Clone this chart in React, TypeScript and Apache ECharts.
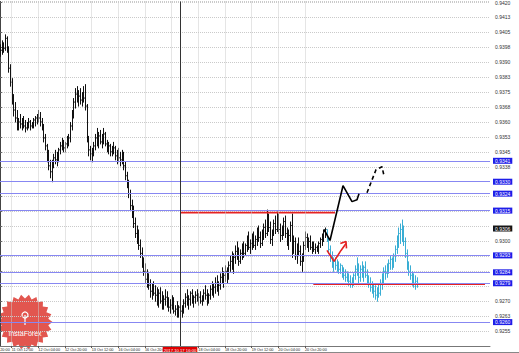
import React, { useEffect, useRef } from "react";
import * as echarts from "echarts";

// ---- axis scale ----
const yMin = 0.92475;
const yMax = 0.94205;
const yStep = 0.00075;
const barCount = 295;
const firstTick = 7;
const tickEvery = 16;
// the label under the crosshair box (17 Oct 12:00) is hidden by it in the reference
const xTickLabels = [
  "11 Oct 12:00", "12 Oct 04:00", "12 Oct 20:00", "13 Oct 12:00", "16 Oct 04:00", "16 Oct 20:00",
  "", "18 Oct 04:00", "18 Oct 20:00", "19 Oct 12:00", "20 Oct 04:00", "20 Oct 20:00",
];
const cutLabel = "10 Oct 20:00";
const crosshairIndex = 108;
const crosshairLabel = "2017.10.17 16:00";

// ---- price bars [high, low, close] ----
const historyBars: [number, number, number][] = [
  [0.9399,0.9393,0.9396],[0.9401,0.9394,0.9399],[0.9400,0.9395,0.9397],[0.9404,0.9396,0.9402],[0.9403,0.9395,0.9397],[0.9398,0.9385,0.9387],[0.9389,0.9378,0.9380],[0.9382,0.9369,0.9372],[0.9374,0.9363,0.9366],[0.9370,0.9360,0.9362],
  [0.9366,0.9356,0.9359],[0.9362,0.9356,0.9360],[0.9364,0.9357,0.9359],[0.9362,0.9356,0.9361],[0.9363,0.9357,0.9358],[0.9361,0.9355,0.9357],[0.9360,0.9356,0.9359],[0.9362,0.9357,0.9360],[0.9361,0.9356,0.9358],[0.9360,0.9357,0.9359],
  [0.9362,0.9357,0.9361],[0.9363,0.9358,0.9362],[0.9364,0.9359,0.9363],[0.9366,0.9360,0.9362],[0.9365,0.9358,0.9360],[0.9362,0.9356,0.9357],[0.9359,0.9350,0.9352],[0.9354,0.9346,0.9348],[0.9349,0.9340,0.9343],[0.9346,0.9336,0.9338],
  [0.9341,0.9332,0.9335],[0.9341,0.9330,0.9340],[0.9344,0.9337,0.9342],[0.9346,0.9339,0.9341],[0.9345,0.9338,0.9343],[0.9347,0.9340,0.9346],[0.9350,0.9344,0.9348],[0.9352,0.9346,0.9350],[0.9351,0.9345,0.9347],[0.9350,0.9345,0.9349],
  [0.9353,0.9347,0.9351],[0.9354,0.9348,0.9352],[0.9360,0.9350,0.9358],[0.9366,0.9356,0.9364],[0.9372,0.9362,0.9370],[0.9377,0.9367,0.9374],[0.9378,0.9370,0.9372],[0.9376,0.9368,0.9373],[0.9377,0.9369,0.9371],[0.9375,0.9368,0.9374],
  [0.9378,0.9370,0.9372],[0.9379,0.9366,0.9368],[0.9369,0.9350,0.9352],[0.9353,0.9343,0.9346],[0.9348,0.9341,0.9344],[0.9347,0.9340,0.9345],[0.9350,0.9343,0.9348],[0.9354,0.9346,0.9352],[0.9357,0.9348,0.9350],[0.9355,0.9347,0.9353],
  [0.9356,0.9349,0.9350],[0.9354,0.9347,0.9352],[0.9357,0.9349,0.9354],[0.9355,0.9348,0.9349],[0.9351,0.9345,0.9347],[0.9350,0.9344,0.9348],[0.9349,0.9343,0.9345],[0.9348,0.9343,0.9346],[0.9350,0.9344,0.9347],[0.9348,0.9341,0.9343],
  [0.9346,0.9339,0.9344],[0.9347,0.9340,0.9342],[0.9345,0.9338,0.9341],[0.9346,0.9339,0.9344],[0.9345,0.9336,0.9338],[0.9340,0.9331,0.9333],[0.9335,0.9327,0.9329],[0.9331,0.9322,0.9324],[0.9326,0.9316,0.9318],[0.9321,0.9312,0.9314],
  [0.9318,0.9307,0.9309],[0.9312,0.9302,0.9304],[0.9308,0.9299,0.9302],[0.9306,0.9296,0.9298],[0.9301,0.9292,0.9294],[0.9297,0.9287,0.9289],[0.9292,0.9283,0.9285],[0.9289,0.9279,0.9281],[0.9286,0.9277,0.9280],[0.9284,0.9276,0.9278],
  [0.9281,0.9272,0.9275],[0.9279,0.9271,0.9276],[0.9280,0.9273,0.9274],[0.9278,0.9270,0.9273],[0.9277,0.9268,0.9271],[0.9276,0.9267,0.9274],[0.9277,0.9269,0.9270],[0.9275,0.9266,0.9268],[0.9273,0.9266,0.9271],[0.9276,0.9268,0.9272],
  [0.9275,0.9267,0.9269],[0.9272,0.9265,0.9267],[0.9271,0.9264,0.9268],[0.9273,0.9266,0.9270],[0.9272,0.9264,0.9265],[0.9268,0.9263,0.9266],[0.9270,0.9262,0.9264],[0.9268,0.9262,0.9267],[0.9270,0.9263,0.9265],[0.9268,0.9262,0.9266],
  [0.9271,0.9264,0.9269],[0.9274,0.9267,0.9272],[0.9276,0.9268,0.9270],[0.9273,0.9266,0.9271],[0.9275,0.9268,0.9274],[0.9276,0.9269,0.9270],[0.9273,0.9267,0.9272],[0.9275,0.9269,0.9273],[0.9276,0.9270,0.9271],[0.9274,0.9268,0.9272],
  [0.9275,0.9269,0.9270],[0.9273,0.9268,0.9272],[0.9276,0.9270,0.9274],[0.9278,0.9271,0.9273],[0.9276,0.9268,0.9270],[0.9274,0.9269,0.9273],[0.9278,0.9271,0.9276],[0.9280,0.9273,0.9275],[0.9279,0.9272,0.9277],[0.9282,0.9274,0.9279],
  [0.9283,0.9275,0.9276],[0.9280,0.9273,0.9278],[0.9284,0.9276,0.9282],[0.9287,0.9279,0.9281],[0.9285,0.9277,0.9283],[0.9288,0.9280,0.9285],[0.9287,0.9279,0.9282],[0.9290,0.9281,0.9288],[0.9293,0.9285,0.9290],[0.9295,0.9286,0.9288],
  [0.9294,0.9284,0.9292],[0.9298,0.9289,0.9295],[0.9300,0.9291,0.9293],[0.9297,0.9288,0.9290],[0.9296,0.9289,0.9294],[0.9299,0.9291,0.9297],[0.9300,0.9292,0.9294],[0.9299,0.9293,0.9298],[0.9303,0.9295,0.9300],[0.9305,0.9296,0.9297],
  [0.9301,0.9294,0.9299],[0.9304,0.9296,0.9302],[0.9305,0.9297,0.9298],[0.9303,0.9296,0.9301],[0.9307,0.9298,0.9305],[0.9308,0.9300,0.9302],[0.9305,0.9297,0.9299],[0.9306,0.9298,0.9304],[0.9309,0.9301,0.9307],[0.9311,0.9302,0.9304],
  [0.9316,0.9303,0.9313],[0.9314,0.9305,0.9307],[0.9310,0.9299,0.9301],[0.9306,0.9298,0.9304],[0.9311,0.9303,0.9309],[0.9313,0.9304,0.9306],[0.9315,0.9305,0.9312],[0.9314,0.9304,0.9306],[0.9309,0.9300,0.9303],[0.9308,0.9301,0.9306],
  [0.9312,0.9303,0.9310],[0.9313,0.9302,0.9304],[0.9307,0.9298,0.9300],[0.9306,0.9296,0.9303],[0.9310,0.9300,0.9308],[0.9314,0.9292,0.9296],[0.9303,0.9294,0.9300],[0.9302,0.9291,0.9293],[0.9299,0.9289,0.9297],[0.9302,0.9293,0.9295],
  [0.9298,0.9288,0.9290],[0.9294,0.9285,0.9292],[0.9300,0.9290,0.9298],[0.9305,0.9296,0.9302],[0.9304,0.9297,0.9299],[0.9302,0.9295,0.9300],[0.9303,0.9296,0.9297],[0.9300,0.9294,0.9298],[0.9300,0.9295,0.9296],[0.9299,0.9294,0.9297],
  [0.9298,0.9295,0.9296],[0.9300,0.9294,0.9299],[0.9302,0.9297,0.9301],[0.9304,0.9298,0.9303],[0.9306,0.9300,0.9305],[0.9307,0.9302,0.9306],
];

const projectionBars: [number, number, number][] = [
  [0.9306,0.9300,0.9301],[0.9302,0.9294,0.9296],[0.9298,0.9290,0.9292],[0.9295,0.9287,0.9289],[0.9292,0.9285,0.9290],[0.9292,0.9286,0.9288],[0.9291,0.9285,0.9287],[0.9290,0.9284,0.9286],[0.9289,0.9284,0.9288],[0.9288,0.9282,0.9284],
  [0.9287,0.9281,0.9283],[0.9286,0.9280,0.9282],[0.9285,0.9280,0.9281],[0.9284,0.9278,0.9280],[0.9283,0.9277,0.9279],[0.9282,0.9277,0.9281],[0.9284,0.9278,0.9283],[0.9288,0.9281,0.9286],[0.9292,0.9283,0.9285],[0.9289,0.9279,0.9282],
  [0.9288,0.9280,0.9286],[0.9290,0.9282,0.9284],[0.9288,0.9280,0.9287],[0.9290,0.9282,0.9283],[0.9286,0.9279,0.9281],[0.9283,0.9277,0.9279],[0.9282,0.9275,0.9277],[0.9280,0.9274,0.9276],[0.9279,0.9272,0.9275],[0.9278,0.9271,0.9273],
  [0.9277,0.9270,0.9276],[0.9279,0.9272,0.9274],[0.9281,0.9273,0.9279],[0.9284,0.9276,0.9282],[0.9287,0.9279,0.9285],[0.9288,0.9281,0.9284],[0.9289,0.9282,0.9287],[0.9291,0.9284,0.9289],[0.9293,0.9286,0.9291],[0.9292,0.9286,0.9290],
  [0.9294,0.9287,0.9293],[0.9298,0.9290,0.9296],[0.9303,0.9294,0.9301],[0.9307,0.9297,0.9304],[0.9309,0.9299,0.9306],[0.9311,0.9300,0.9303],[0.9308,0.9298,0.9300],[0.9302,0.9292,0.9294],[0.9296,0.9286,0.9288],[0.9290,0.9283,0.9285],
  [0.9288,0.9281,0.9283],[0.9285,0.9278,0.9280],[0.9284,0.9277,0.9279],[0.9283,0.9276,0.9280],[0.9282,0.9277,0.9279],
];
const projectionStart = 196;

// ---- levels & drawn annotations (bar index, price) ----
const blueLevels = [0.93405, 0.933, 0.9324, 0.93155, 0.9293, 0.92845, 0.9279, 0.92595];
const currentPrice = 0.93065;
const redLevels = [
  { from: 108, to: 201, price: 0.93145 },
  { from: 188, to: 291, price: 0.92785 },
];
const forecastSolid: [number, number][] = [[194.4, 0.9306], [198, 0.93005], [205.8, 0.9328], [211.2, 0.932], [214.2, 0.9321], [215.4, 0.9324]];
const forecastDashed: [number, number][] = [[220.2, 0.93245], [225.6, 0.9336], [229.2, 0.93375], [230.4, 0.9333]];
const redPath: [number, number][] = [[196.2, 0.92955], [200.4, 0.929], [204.6, 0.92955], [207.6, 0.9299]];
const redHead: [number, number][] = [[204.2, 0.9299], [207.6, 0.93], [207.9, 0.92965]];

function buildOhlc(bars: [number, number, number][], start: number, firstOpen: number) {
  const out: number[][] = [];
  let prev = firstOpen;
  bars.forEach(([h, l, c], i) => {
    out.push([start + i, prev, h, l, c]);
    prev = c;
  });
  return out;
}

const makeRender = (color: string) => (_params: any, api: any) => {
  const x = api.value(0);
  const pH = api.coord([x, api.value(2)]);
  const pL = api.coord([x, api.value(3)]);
  const pO = api.coord([x, api.value(1)]);
  const pC = api.coord([x, api.value(4)]);
  const px = Math.round(pH[0]) + 0.5;
  const style = { stroke: color, lineWidth: 1 };
  return {
    type: "group",
    children: [
      { type: "line", shape: { x1: px, y1: pH[1], x2: px, y2: pL[1] + 0.5 }, style },
      { type: "line", shape: { x1: px - 1, y1: pO[1], x2: px, y2: pO[1] }, style },
      { type: "line", shape: { x1: px, y1: pC[1], x2: px + 1, y2: pC[1] }, style },
    ],
  };
};

const FONT = "Liberation Sans";

export default function App() {
  const ref = useRef<HTMLDivElement>(null);
  useEffect(() => {
    document.body.style.margin = "0";
    if (!ref.current) return;
    const chart = echarts.init(ref.current, undefined, { renderer: "svg" });
    const isTick = (i: number) => i >= firstTick && (i - firstTick) % tickEvery === 0 && (i - firstTick) / tickEvery < xTickLabels.length;
    const boxed = [...blueLevels, currentPrice];

    const histOhlc = buildOhlc(historyBars, 0, historyBars[0][2]);
    const projOhlc = buildOhlc(projectionBars, projectionStart, historyBars[historyBars.length - 1][2]);

    // logo star
    const cx = 25, cy = 322;
    const star: number[][] = [];
    const spikes = 22;
    for (let i = 0; i < spikes * 2; i++) {
      const a = (Math.PI * i) / spikes;
      const r = i % 2 === 0 ? 27.5 : 23.5;
      star.push([cx + r * Math.cos(a), cy + r * Math.sin(a)]);
    }

    const boxLabel = {
      show: true,
      position: "end",
      distance: 3,
      formatter: (p: any) => Number(p.value).toFixed(4),
      color: "#fff",
      fontSize: 5,
      fontFamily: FONT,
      padding: [1, 2, 0, 2],
    };

    const option: any = {
      animation: false,
      backgroundColor: "#ffffff",
      grid: { left: 0, right: 29, top: 0, bottom: 7, containLabel: false },
      xAxis: [
        {
          type: "category",
          data: Array.from({ length: barCount }, (_, i) => String(i)),
          boundaryGap: false,
          z: 4,
          axisLine: { show: true, lineStyle: { color: "#777", width: 1 } },
          axisTick: { show: true, interval: (i: number) => isTick(i), length: 2, lineStyle: { color: "#555" } },
          axisLabel: {
            interval: (i: number) => isTick(i),
            formatter: (_v: string, i: number) => xTickLabels[(i - firstTick) / tickEvery] ?? "",
            align: "left",
            fontSize: 3.8,
            margin: 2,
            color: "#222",
            fontFamily: FONT,
          },
          splitLine: { show: true, interval: (i: number) => isTick(i), lineStyle: { type: "dotted", color: "#cacaca", width: 1 } },
        },
        { type: "value", min: 0, max: barCount - 1, show: false },
      ],
      yAxis: {
        type: "value",
        position: "right",
        min: yMin,
        max: yMax,
        interval: yStep,
        axisLine: { show: true, lineStyle: { color: "#444", width: 1 } },
        axisTick: { show: true, length: 2, lineStyle: { color: "#666" } },
        axisLabel: {
          fontSize: 5,
          color: "#333",
          margin: 5,
          fontFamily: FONT,
          showMinLabel: false,
          showMaxLabel: false,
          // like the terminal, a scale label hidden by a level box is not drawn
          formatter: (v: number) =>
            boxed.some((b) => Math.abs(b - v) < 0.00024) ? "" : (Math.round(v * 10000 + 1e-6) / 10000).toFixed(4),
        },
        splitLine: { show: true, lineStyle: { type: "dotted", color: "#cacaca", width: 1 } },
      },
      series: [
        {
          type: "custom",
          xAxisIndex: 1,
          renderItem: makeRender("#111"),
          encode: { x: 0, y: [1, 2, 3, 4] },
          data: histOhlc,
          clip: true,
          silent: true,
          z: 2,
        },
        {
          type: "custom",
          xAxisIndex: 1,
          renderItem: makeRender("#3aaed4"),
          encode: { x: 0, y: [1, 2, 3, 4] },
          data: projOhlc,
          clip: true,
          silent: true,
          z: 2,
        },
        ...redLevels.map((lv) => ({
          type: "line",
          xAxisIndex: 1,
          data: [[lv.from, lv.price], [lv.to, lv.price]],
          symbol: "none",
          silent: true,
          z: 3,
          lineStyle: { color: "#e52222", width: 1.6 },
        })),
        {
          type: "line",
          xAxisIndex: 1,
          data: forecastSolid,
          symbol: "none",
          silent: true,
          z: 5,
          lineStyle: { color: "#000", width: 1.6 },
          markLine: {
            silent: true,
            symbol: "none",
            precision: 5,
            animation: false,
            lineStyle: { color: "#8787f2", type: "solid", width: 1 },
            label: { ...boxLabel, backgroundColor: "#1e1ee8" },
            data: [
              ...blueLevels.map((v) => ({ yAxis: v })),
              {
                yAxis: currentPrice,
                lineStyle: { color: "rgba(0,0,0,0)" },
                label: { ...boxLabel, backgroundColor: "#151515" },
              },
            ],
          },
        },
        {
          type: "line",
          xAxisIndex: 1,
          data: forecastDashed,
          symbol: "none",
          silent: true,
          z: 5,
          lineStyle: { color: "#000", width: 1.6, type: [4, 3] },
        },
        {
          type: "line",
          xAxisIndex: 1,
          data: redPath,
          symbol: "none",
          silent: true,
          z: 10,
          lineStyle: { color: "#e52222", width: 1.6 },
          markLine: {
            silent: true,
            symbol: "none",
            precision: 2,
            animation: false,
            lineStyle: { color: "#333", type: "solid", width: 1 },
            label: {
              show: true,
              position: "start",
              distance: 1,
              formatter: () => crosshairLabel,
              backgroundColor: "#e00000",
              color: "#fff",
              fontSize: 4.2,
              fontFamily: FONT,
              padding: [1, 1, 0, 1],
            },
            data: [{ xAxis: crosshairIndex }],
          },
        },
        {
          type: "line",
          xAxisIndex: 1,
          data: redHead,
          symbol: "none",
          silent: true,
          z: 10,
          lineStyle: { color: "#e52222", width: 1.6 },
        },
      ],
      graphic: [
        {
          type: "group",
          z: 3,
          children: [
            { type: "polygon", shape: { points: star }, style: { fill: "#e2564f" } },
            { type: "circle", shape: { cx: cx, cy: 315, r: 3 }, style: { fill: "none", stroke: "#fff", lineWidth: 1.2 } },
            { type: "line", shape: { x1: cx, y1: 315, x2: cx, y2: 325 }, style: { stroke: "#fff", lineWidth: 1.2 } },
            {
              type: "text",
              x: cx,
              y: 333,
              style: { text: "InstaForex", fill: "#fff", font: `7px "${FONT}"`, textAlign: "center", textVerticalAlign: "middle" },
            },
          ],
        },
        {
          type: "text",
          x: -12,
          y: 348,
          z: 5,
          style: { text: cutLabel, fill: "#222", font: `3.8px "${FONT}"`, textAlign: "left", textVerticalAlign: "top" },
        },
        {
          type: "line",
          z: 5,
          shape: { x1: 0, y1: 352.5, x2: 519, y2: 352.5 },
          style: { stroke: "#888", lineWidth: 1 },
        },
      ],
    };
    chart.setOption(option);
    return () => chart.dispose();
  }, []);
  return <div ref={ref} style={{ width: 519, height: 353 }} />;
}
